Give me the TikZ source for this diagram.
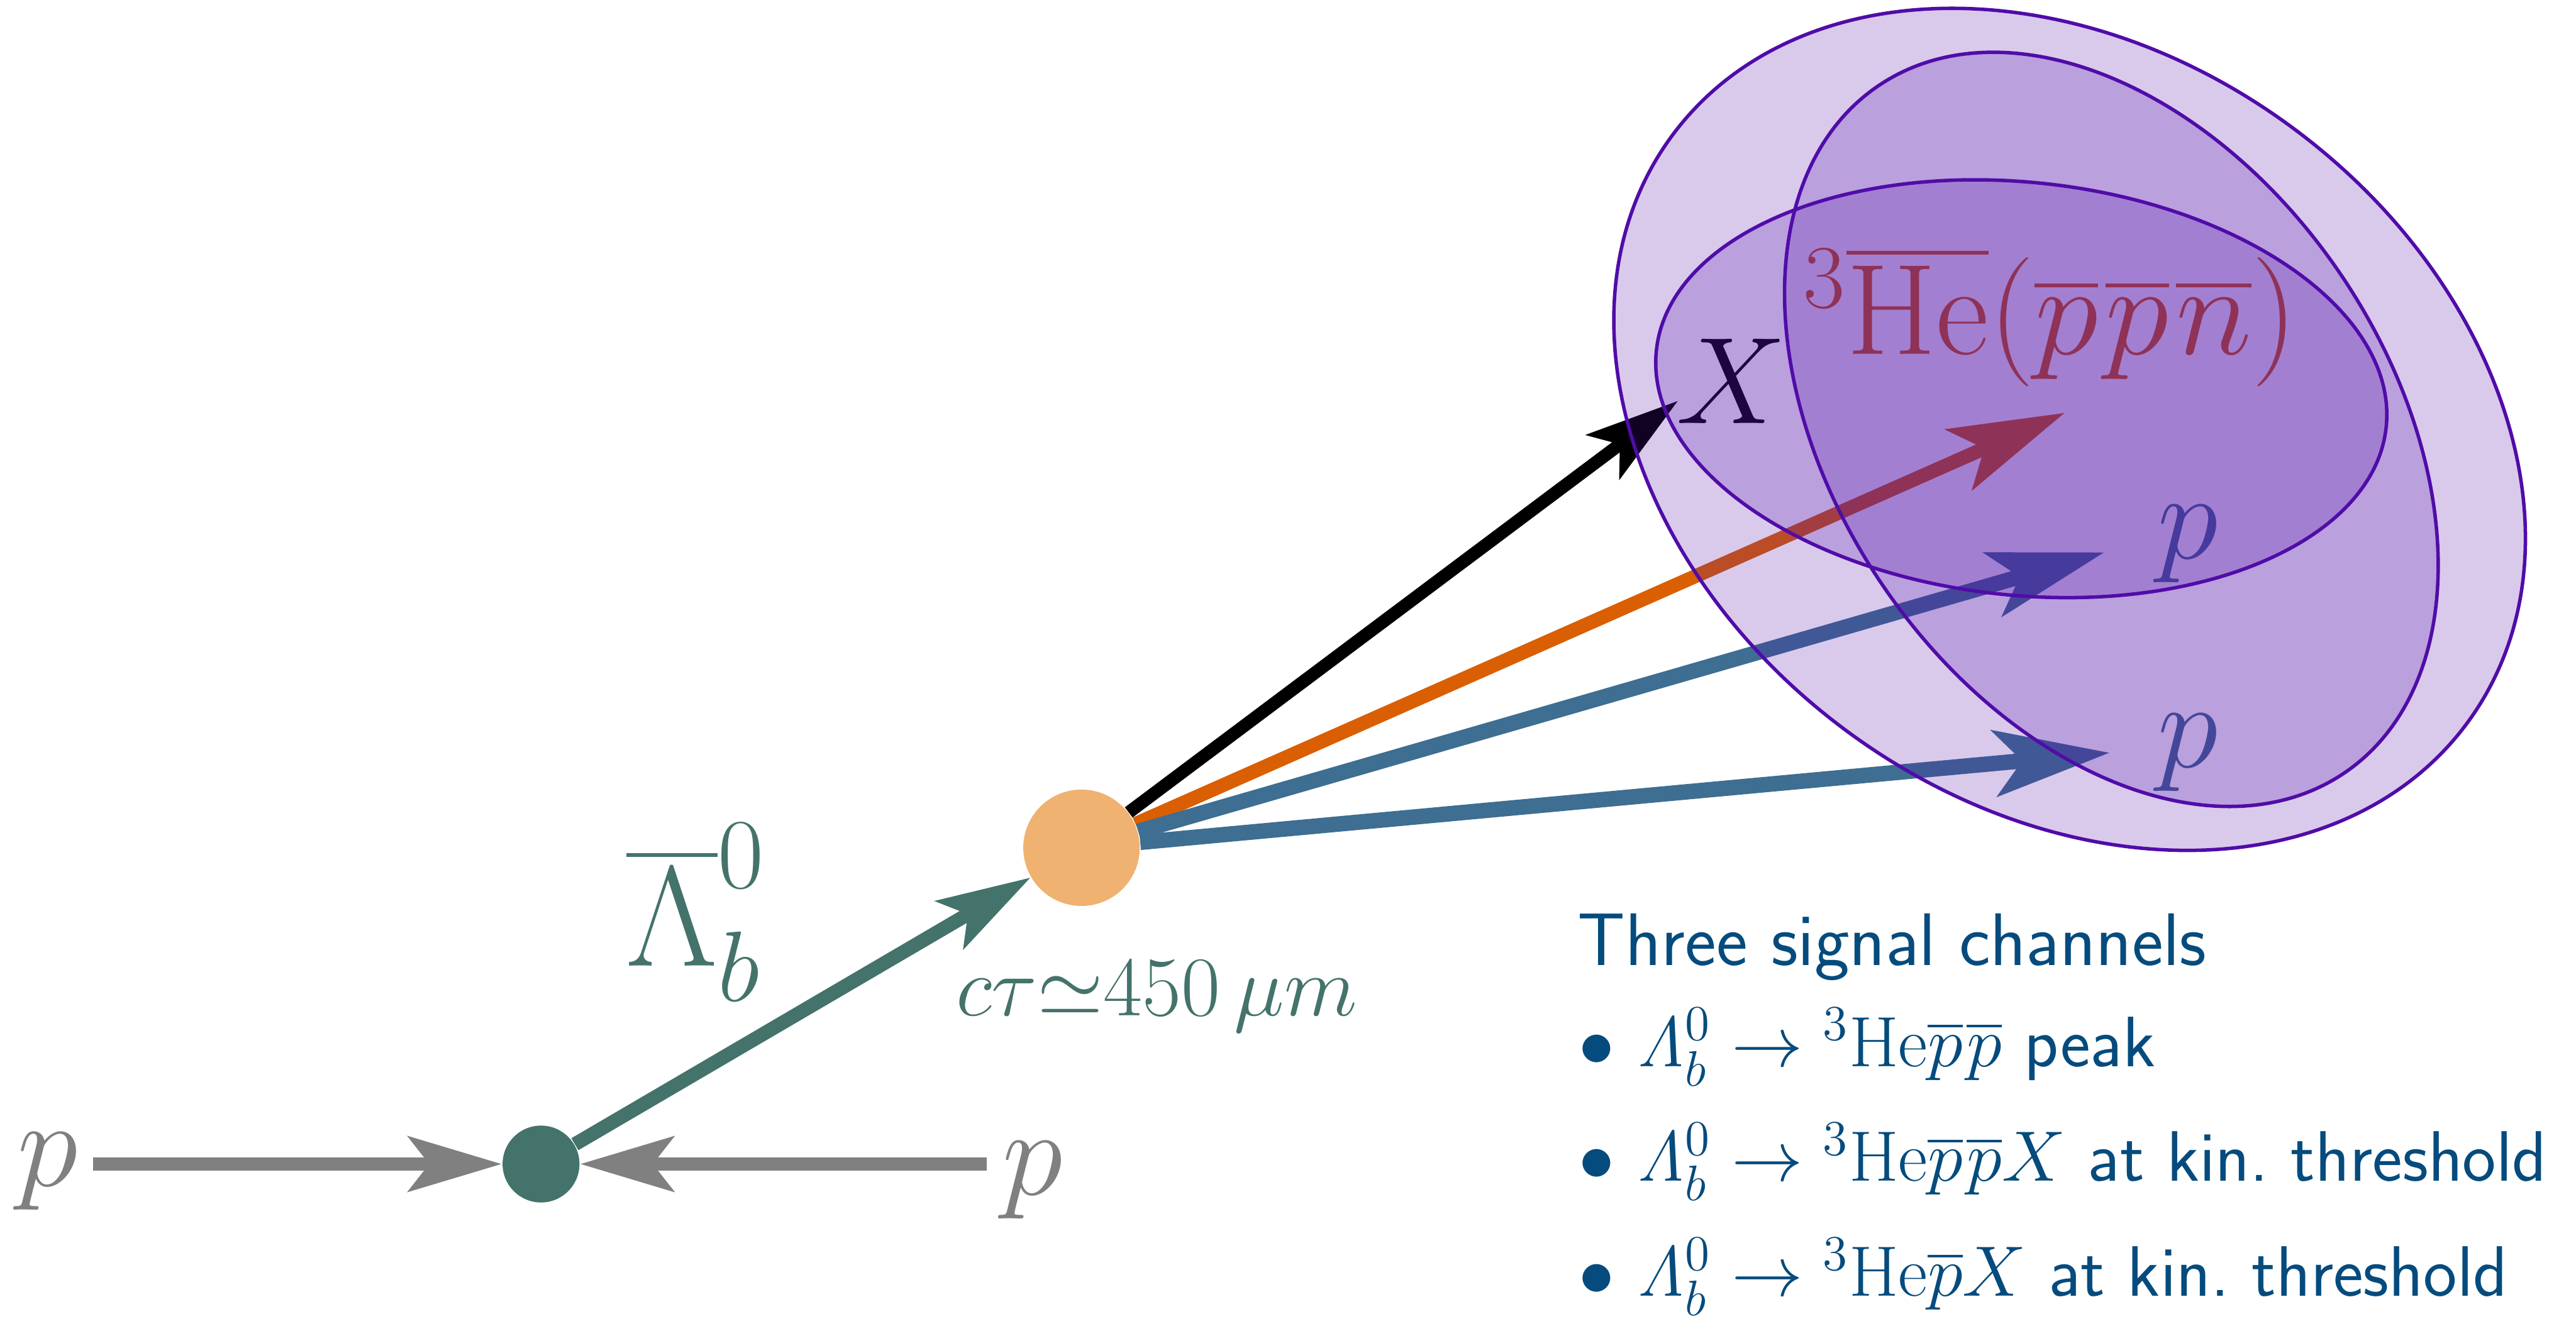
\RequirePackage{fix-cm}
\documentclass[tikz,border=0pt]{standalone}
\usepackage{exscale}
\usepackage{tikz}
\usetikzlibrary{arrows.meta}
\definecolor{protongray}{RGB}{128,128,128}
\definecolor{lbteal}{RGB}{68,115,107}
\definecolor{svorange}{RGB}{240,178,112}
\definecolor{heorange}{RGB}{217,95,2}
\definecolor{pblue}{RGB}{62,110,145}
\definecolor{shellviolet}{RGB}{80,12,168}
\definecolor{textblue}{RGB}{5,75,125}

\begin{document}
\begin{tikzpicture}[big/.style={inner sep=0pt, font=\fontsize{32}{38}\selectfont},
                    sm/.style={-{Stealth[length=0.85cm, width=0.5cm, inset=0.19cm]}},
                    lg/.style={-{Stealth[length=1.05cm, width=0.6cm, inset=0.25cm]}},
                    shell/.style={draw=shellviolet, line width=0.9pt, fill=shellviolet, fill opacity=0.22},
                    item/.style={anchor=base west, inner sep=0pt, text=textblue, font=\sffamily\fontsize{18.5}{22}\selectfont}]
                    \useasboundingbox (0,0) rectangle (23.45,12.01);
                    \node[circle, fill=lbteal, minimum size=0.7cm, inner sep=0pt] (PV) at (4.925,1.41) {};
                    \node[circle, fill=svorange, minimum size=1.06cm, inner sep=0pt] (SV) at (9.845,4.29) {};
                    \coordinate (pL) at (0.85,1.41); \coordinate (pR) at (8.98,1.41);
                    \coordinate (tX) at (15.275,8.36); \coordinate (tHe) at (18.795,8.25);
                    \coordinate (tp1) at (19.155,6.98); \coordinate (tp2) at (19.205,5.155);
                    \draw[sm, protongray, line width=3.3pt] (pL) -- (PV); \draw[sm, protongray, line width=3.3pt] (pR) -- (PV);
                    \draw[sm, lbteal, line width=3.6pt] (PV) -- (SV);
                    \draw[sm, black, line width=3.3pt] (SV) -- (tX);
                    \draw[lg, heorange, line width=3.6pt] (SV) -- (tHe);
                    \draw[lg, pblue, line width=4pt] (SV) -- (tp1); \draw[lg, pblue, line width=4pt] (SV) -- (tp2);
                    \node[big, protongray] (pin) at (0.435,1.345) {$p$};
                    \node[big, protongray] (pout) at (9.4,1.265) {$p$};
                    \node[inner sep=0pt, lbteal, font=\fontsize{37}{44}\selectfont] (lb) at (6.335,3.70) {$\overline{\Lambda}^0_b$};
                    \node[anchor=base west, inner sep=0pt, lbteal, font=\fontsize{22}{27}\selectfont] (ctau) at (8.695,2.76) {$c\tau{\simeq}450\,\mu m$};
                    \node[big] (xlab) at (15.76,8.54) {$X$};
                    \node[big, heorange, font=\fontsize{33.5}{40}\selectfont] (helab) at (18.665,9.125) {${}^3\overline{\mathrm{He}}(\overline{p}\mkern1mu\overline{p}\mkern1mu\overline{n})$};
                    \node[big, pblue] (p1) at (19.915,7.055) {$p$};
                    \node[big, pblue] (p2) at (19.915,5.155) {$p$};
                    \node[item, font=\sffamily\fontsize{19.3}{23}\selectfont] (title) at (14.355,3.22) {Three signal channels};
                    \node[item] (ch1) at (14.365,2.30) {$\bullet$\ $\mathit{\Lambda}^0_b\to{}^3\mathrm{He}\overline{p}\mkern1mu\overline{p}$ peak};
                    \node[item] (ch2) at (14.365,1.255) {$\bullet$\ $\mathit{\Lambda}^0_b\to{}^3\mathrm{He}\overline{p}\mkern1mu\overline{p}X$ at kin.\ threshold};
                    \node[item] (ch3) at (14.365,0.205) {$\bullet$\ $\mathit{\Lambda}^0_b\to{}^3\mathrm{He}\overline{p}X$ at kin.\ threshold};
                    \draw[shell, rotate around={-36.5:(18.84,8.10)}] (18.84,8.10) ellipse (4.5 and 3.415);
                    \draw[shell, rotate around={-55.85:(19.22,8.10)}] (19.22,8.10) ellipse (3.78 and 2.52);
                    \draw[shell, rotate around={-6:(18.40,8.47)}] (18.40,8.47) ellipse (3.34 and 1.88);
                \end{tikzpicture}
\end{document}
